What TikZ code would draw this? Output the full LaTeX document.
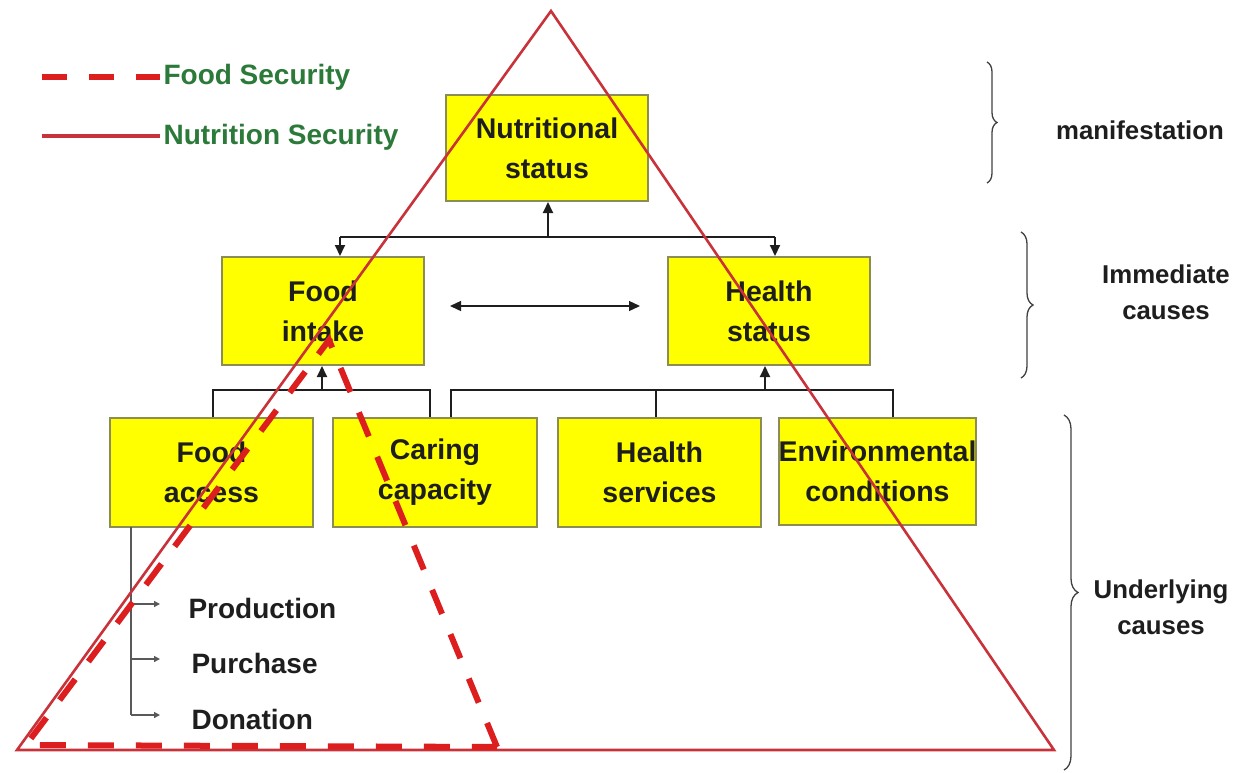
\documentclass[tikz,border=0pt]{standalone}
\usepackage{fontspec}
\setmainfont{Liberation Sans}
\usetikzlibrary{arrows.meta,decorations.pathreplacing}
\definecolor{boxfill}{HTML}{FFFF00}
\definecolor{boxedge}{HTML}{8C8C55}
\definecolor{inkblack}{HTML}{1E1E1E}
\definecolor{nsred}{HTML}{C8323A}
\definecolor{fsred}{HTML}{DC1E1E}
\definecolor{legendgreen}{HTML}{2C7A3A}
\begin{document}
\begin{tikzpicture}[x=1pt,y=-1pt,
  box/.style={draw=boxedge,fill=boxfill,line width=2pt,inner sep=0pt,align=center,
    text=inkblack,font=\bfseries\fontsize{28.5}{40}\selectfont},
  conn/.style={draw=inkblack,line width=2pt},
  tip/.style={-{Triangle[length=11pt,width=10pt]}},
  subline/.style={draw=black!65,line width=1.3pt},
  subtip/.style={-{Triangle[length=6pt,width=6pt]}},
  subtext/.style={anchor=west,text=inkblack,font=\bfseries\fontsize{28}{30}\selectfont},
  sidetext/.style={align=center,text=inkblack,font=\bfseries\fontsize{25.8}{36}\selectfont},
  legendtext/.style={anchor=west,text=legendgreen,font=\bfseries\fontsize{28}{30}\selectfont},
  nsline/.style={draw=nsred,line width=2.6pt,line join=miter},
  fsline/.style={draw=fsred,line width=6pt,dash pattern=on 26pt off 22pt},
  sidebrace/.style={draw=black!75,line width=1.3pt,decorate},
]
\useasboundingbox (0,0) rectangle (1254,772);

% boxes of the causal framework
\node[box,minimum width=202pt,minimum height=106pt] (ns) at (547,148) {Nutritional\\status};
\node[box,minimum width=202pt,minimum height=108pt] (fi) at (323,311) {Food\\intake};
\node[box,minimum width=202pt,minimum height=108pt] (hs) at (769,311) {Health\\status};
\node[box,minimum width=203pt,minimum height=109pt] (fa) at (211.5,472.5) {Food\\access};
\node[box,minimum width=204pt,minimum height=109pt] (cc) at (435,472.5) {Caring\\capacity};
\node[box,minimum width=203pt,minimum height=109pt] (hv) at (659.5,472.5) {Health\\services};
\node[box,minimum width=195pt,minimum height=107pt] (ec) at (877.5,471.5) {Environmental\\conditions};

% immediate causes -> nutritional status
\coordinate (t1) at (340,237);
\coordinate (t2) at (775,237);
\coordinate (tj) at (548,237);
\draw[conn] (t1) -- (t2);
\draw[conn,tip] (tj) -- (tj |- ns.south);
\draw[conn,tip] (t1) -- (t1 |- fi.north);
\draw[conn,tip] (t2) -- (t2 |- hs.north);
\coordinate (da) at (450,306);
\coordinate (db) at (640,306);
\draw[line width=1.3pt,draw=inkblack,{Triangle[length=11pt,width=10pt]}-{Triangle[length=11pt,width=10pt]}] (da) -- (db);

% underlying causes -> food intake
\coordinate (b1) at (213,390);
\coordinate (b2) at (430,390);
\coordinate (bj) at (322,390);
\draw[conn] (b1 |- fa.north) -- (b1) -- (b2) -- (b2 |- cc.north);
\draw[conn,tip] (bj) -- (bj |- fi.south);

% underlying causes -> health status
\coordinate (c1) at (451,390);
\coordinate (c2) at (893,390);
\coordinate (c3) at (656,390);
\coordinate (cj) at (765,390);
\draw[conn] (c1 |- cc.north) -- (c1) -- (c2) -- (c2 |- ec.north);
\draw[conn] (c3) -- (c3 |- hv.north);
\draw[conn,tip] (cj) -- (cj |- hs.south);

% sources of food access
\coordinate (s0) at (131,527);
\coordinate (s1) at (131,604);
\coordinate (s2) at (131,659);
\coordinate (s3) at (131,715);
\node[subtext] (pr) at (185,608) {Production};
\node[subtext] (pu) at (188,663) {Purchase};
\node[subtext] (do) at (188,719) {Donation};
\draw[subline] (s0) -- (s3);
\draw[subline,subtip] (s1) -- ([xshift=-25pt]pr.west |- s1);
\draw[subline,subtip] (s2) -- ([xshift=-28pt]pu.west |- s2);
\draw[subline,subtip] (s3) -- ([xshift=-28pt]do.west |- s3);

% levels on the right
\draw[sidebrace,decoration={brace,amplitude=10pt}] (987,62) -- (987,183);
\draw[sidebrace,decoration={brace,amplitude=12pt}] (1021,232) -- (1021,378);
\draw[sidebrace,decoration={brace,amplitude=14pt}] (1064,415) -- (1064,770);
\node[sidetext] (lv1) at (1140,130) {manifestation};
\node[sidetext] (lv2) at (1166,292) {Immediate\\causes};
\node[sidetext] (lv3) at (1161,607) {Underlying\\causes};

% nutrition security (solid) and food security (dashed) triangles
\coordinate (n1) at (551,11);
\coordinate (n2) at (1054,750);
\coordinate (n3) at (17,750);
\draw[nsline] (n1) -- (n2) -- (n3) -- cycle;
\coordinate (f1) at (329,340);
\coordinate (f2) at (497,747);
\coordinate (f3) at (26,745);
\draw[fsline] (f2) -- (f1) -- (f3) -- (f2);

% legend
\coordinate (la) at (42,77);
\coordinate (lb) at (42,136);
\node[legendtext] (lfs) at (160,77) {Food Security};
\node[legendtext] (lns) at (160,137) {Nutrition Security};
\draw[fsline,dash pattern=on 25pt off 22pt] (la) -- (lfs.west |- la);
\draw[nsline,line width=4pt] (lb) -- (lns.west |- lb);
\end{tikzpicture}
\end{document}
